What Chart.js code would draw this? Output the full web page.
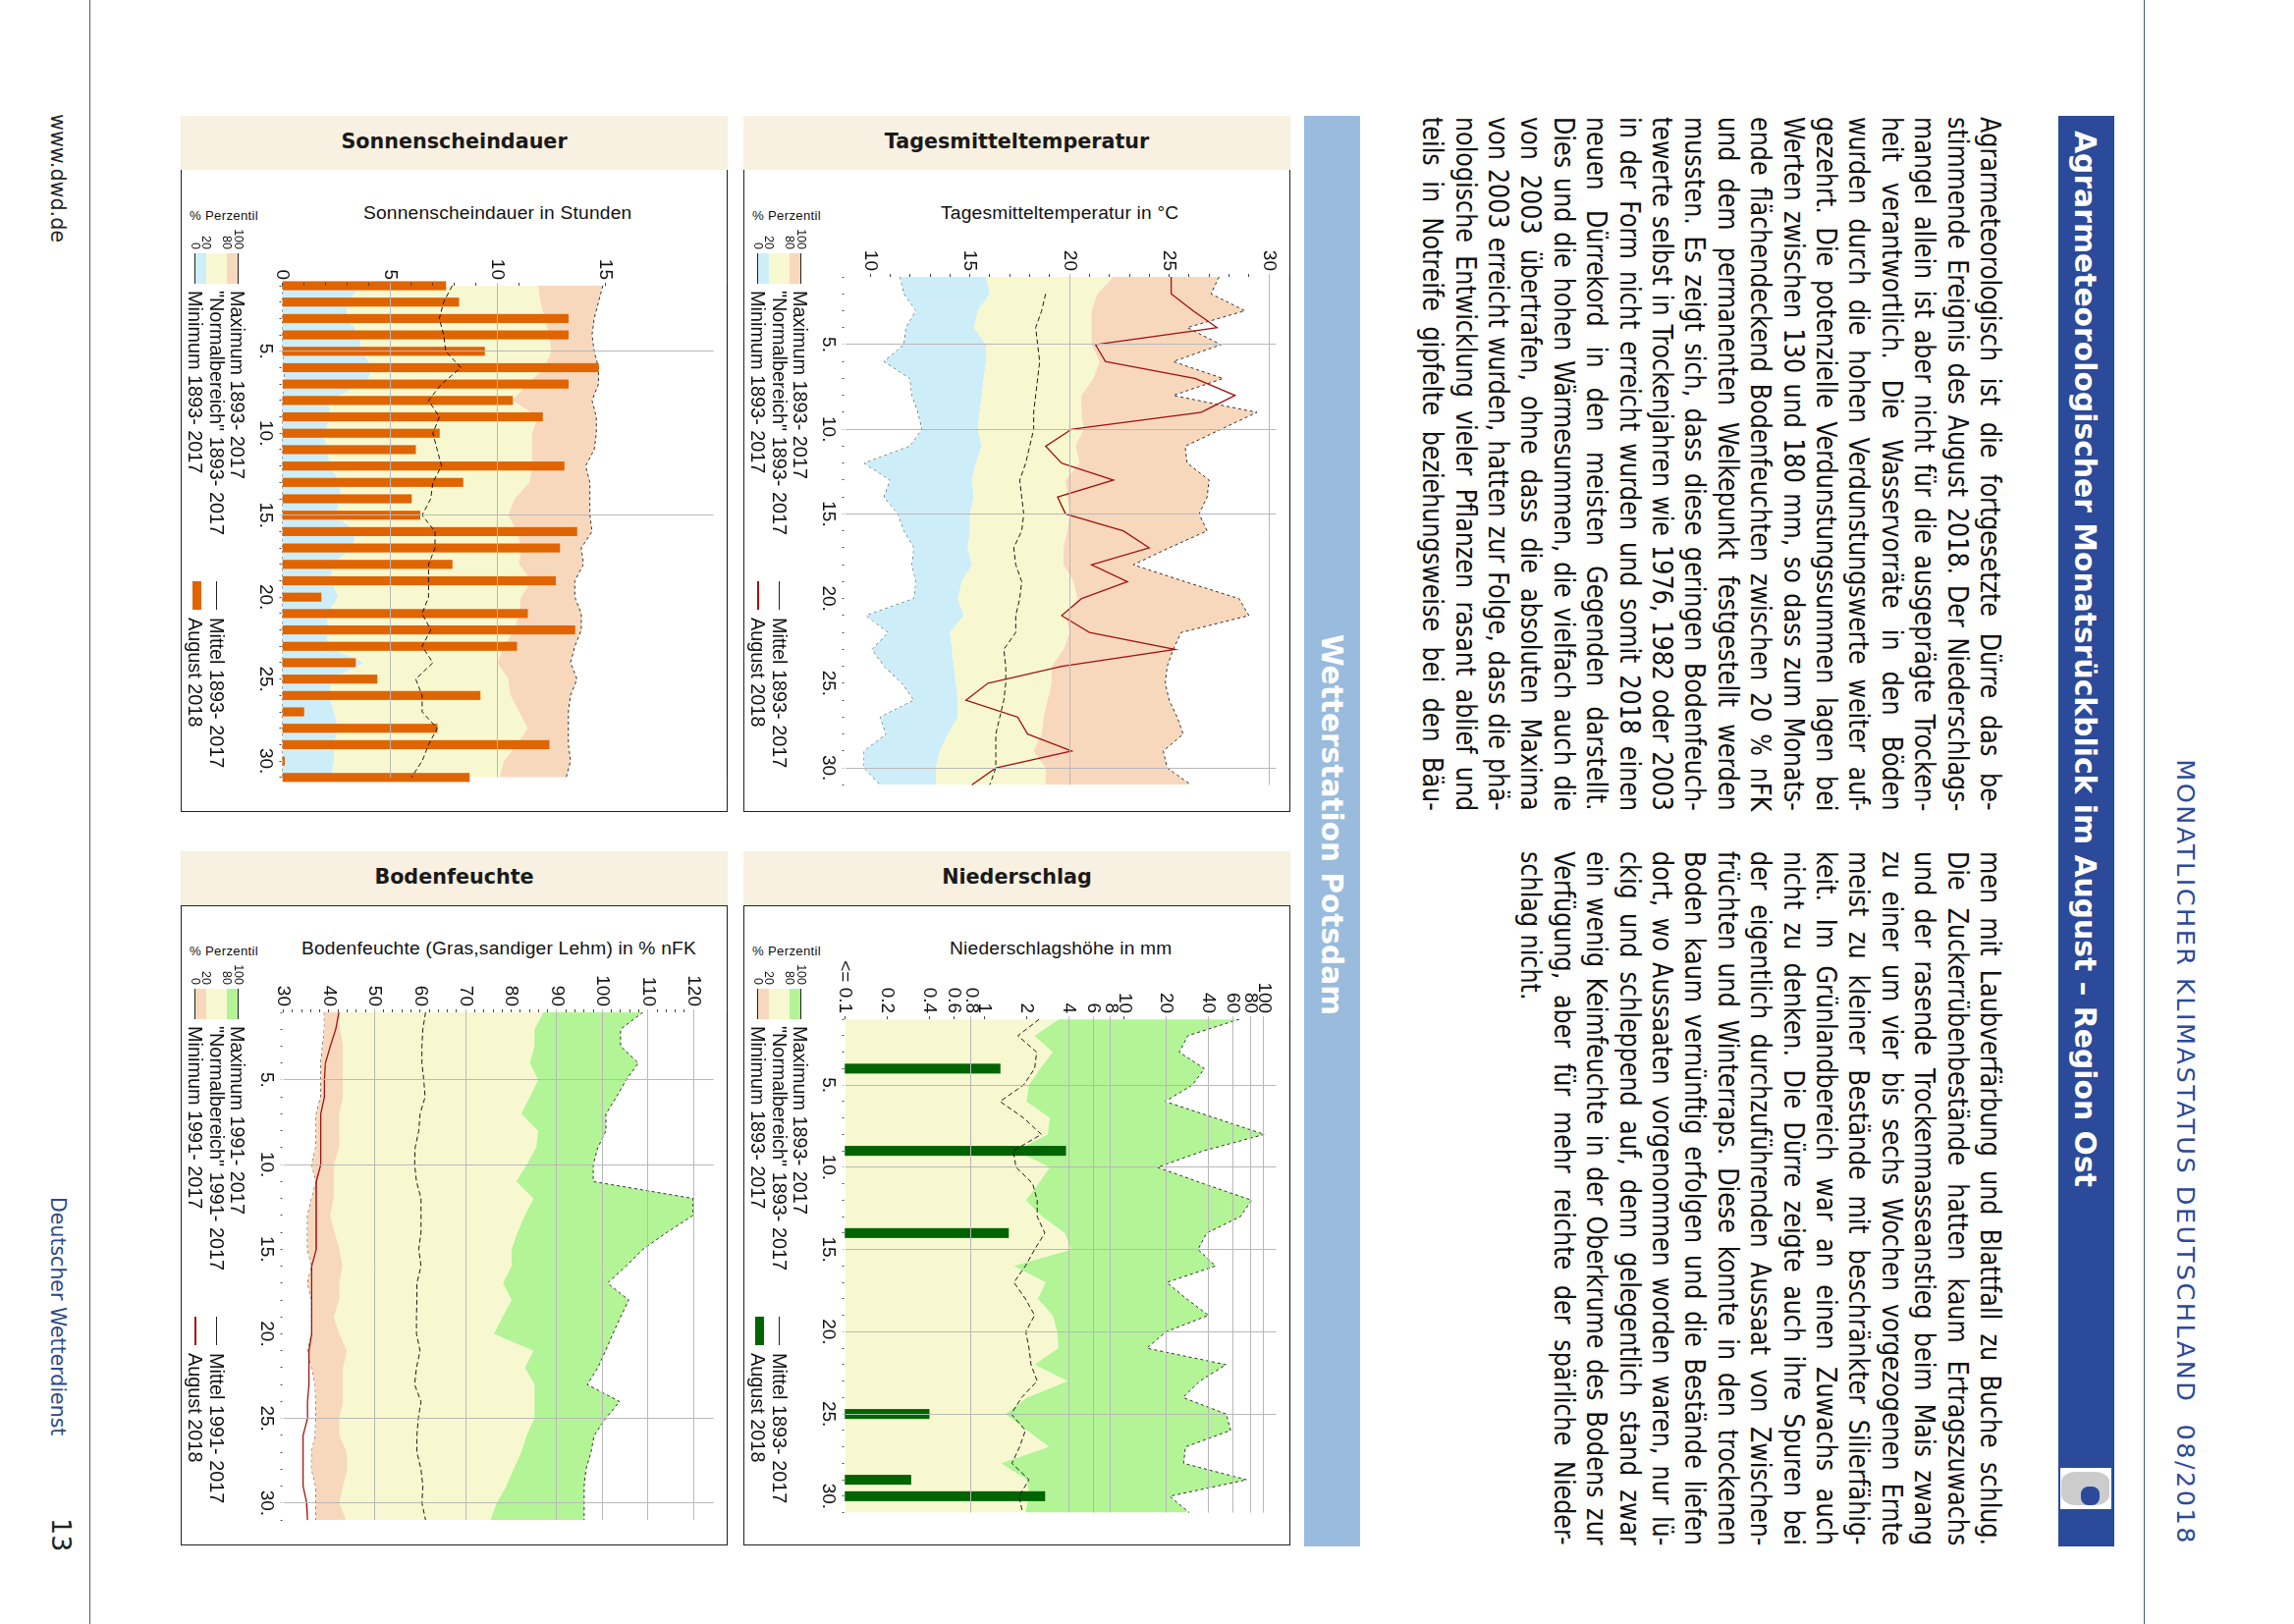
<!DOCTYPE html>
<html lang="de">
<head>
<meta charset="UTF-8">
<title>Monatlicher Klimastatus Deutschland 08/2018</title>
<script src="https://cdn.jsdelivr.net/npm/chart.js"></script>
<style>
  html, body { margin: 0; padding: 0; background: #fff; }
  #page { position: relative; width: 2336px; height: 1654px; overflow: hidden; background: #fff; font-family: "Liberation Sans", sans-serif; color: #111; }
  #page div { position: absolute; }
  .rot { transform-origin: 0 0; transform: rotate(90deg); white-space: nowrap; }
  .band { background: #f8f0e0; font: bold 20.7px "DejaVu Sans", sans-serif; color: #1a1a1a; text-align: center; line-height: 52px; }
  .frame { border: 1px solid #222; box-sizing: border-box; }
  .plotTitle, .perc { white-space: nowrap; transform: translateY(-50%); }
  .plotTitle { font-size: 19.2px; letter-spacing: 0.2px; }
  .perc { font-size: 13.2px; letter-spacing: 0.3px; }
  .line { height: 33px; white-space: nowrap; font: 26.5px/33px "DejaVu Sans Condensed", "DejaVu Sans", sans-serif; color: #111; transform: rotate(90deg) scaleY(1.05); }
  .lg { font-size: 19.85px; line-height: 22px; white-space: nowrap; transform: translateY(-50%); }
  .lgt { font-size: 12.5px; line-height: 14px; white-space: nowrap; text-align: right; transform: translateY(-50%); width: 30px; }
</style>
</head>
<body>
<div id="page">
  <div style="left:91px;top:0;width:1px;height:1654px;background:#4a5a78"></div>
  <div style="left:2183px;top:0;width:1px;height:1654px;background:#4a5a78"></div>

  <div class="rot" style="left:2241px;top:772px;width:802px;font:25.5px 'DejaVu Sans',sans-serif;color:#2c4a9a;letter-spacing:2.5px;text-align:right">MONATLICHER KLIMASTATUS DEUTSCHLAND&nbsp; 08/2018</div>
  <div class="rot" style="left:71px;top:116px;font:20.7px 'DejaVu Sans',sans-serif;color:#222">www.dwd.de</div>
  <div class="rot" style="left:71px;top:1219px;font:20.5px 'DejaVu Sans',sans-serif;color:#2c4a8a">Deutscher Wetterdienst</div>
  <div class="rot" style="left:78px;top:1546px;font:27px 'DejaVu Sans',sans-serif;color:#222">13</div>

  <div style="left:2096px;top:118px;width:57px;height:1457px;background:#2c4a9a"></div>
  <div class="rot" style="left:2141px;top:133px;font:bold 29.8px 'DejaVu Sans',sans-serif;color:#fff">Agrarmeteorologischer Monatsrückblick im August – Region Ost</div>
  <div style="left:2098px;top:1495px;width:52px;height:42px;background:#fff"></div>
  <div style="left:2099px;top:1499px;width:49px;height:34px;background:#ccc;border-radius:30%"></div>
  <div style="left:2119px;top:1514px;width:19px;height:19px;background:#2c4a9a;border-radius:40%"></div>

  <div style="left:1328px;top:118px;width:57px;height:1457px;background:#99bbdd"></div>
  <div class="rot" style="left:1373px;top:646px;font:bold 29.6px 'DejaVu Sans',sans-serif;color:#fff">Wetterstation Potsdam</div>
</div>

<script>
// --- Tagesmitteltemperatur
const days = ['1','2','3','4','5','6','7','8','9','10','11','12','13','14','15','16','17','18','19','20','21','22','23','24','25','26','27','28','29','30','31'];
const tagesMax = [27.5,27.1,28.8,25.9,27.6,25.2,27.7,25.2,29.4,27.6,25.8,25.9,27.0,26.9,26.5,26.9,25.0,23.2,25.8,28.5,29.0,25.6,25.2,24.9,24.8,25.0,25.4,25.7,24.7,24.9,26.1];
const tagesP80 = [22.2,21.4,21.1,21.1,21.1,21.5,21.2,20.6,20.6,20.7,20.3,20.5,19.8,19.9,20.0,19.9,19.7,19.7,20.2,20.4,19.8,20.0,19.7,19.1,19.1,18.9,18.7,18.6,18.2,18.8,18.8];
const tagesP20 = [15.8,16.0,15.4,15.2,15.8,15.8,15.7,15.6,15.5,15.4,15.6,15.3,15.1,15.2,15.0,15.0,14.9,15.1,14.6,14.4,14.7,14.0,14.1,14.2,14.3,14.4,14.4,13.9,13.5,13.3,13.3];
const tagesMin = [11.5,11.7,12.3,11.8,11.7,10.7,12.0,12.1,12.4,12.6,12.0,9.7,11.0,10.7,11.4,11.7,12.2,12.1,12.3,12.2,9.8,10.9,10.1,10.7,11.6,12.2,10.5,10.8,9.7,9.7,10.5];
const tagesMittel = [null,18.8,18.6,18.3,18.4,18.5,18.4,18.3,18.2,18.2,18.0,17.8,17.5,17.6,17.7,17.6,17.2,17.3,17.6,17.5,17.3,17.3,16.7,16.8,16.8,16.7,16.5,16.3,16.3,16.3,16.0];
const tagesAugust = [25.1,25.1,26.2,27.4,21.3,21.8,26.3,28.3,26.6,20.1,18.8,19.6,22.2,19.4,19.8,22.7,24.0,21.1,22.9,20.6,19.6,21.0,25.3,19.6,15.9,14.8,17.4,17.9,20.1,16.3,15.1];
const tagesTicks = [10,11,12,13,14,15,16,17,18,19,20,21,22,23,24,25,26,27,28,29,30];
const tagesLabels = [10,15,20,25,30];
const tagesGridV = [20,30];
const tagesGridD = ['5','10','15','30'];

// --- Sonnenscheindauer
const sonneMax = [14.9,14.7,14.5,14.4,14.5,14.7,14.7,14.4,14.6,14.6,14.5,14.1,14.3,14.3,14.3,14.4,13.9,14.0,13.6,13.6,13.9,13.9,13.6,13.4,13.7,13.4,13.3,13.3,13.3,13.4,13.2];
const sonneP80 = [11.9,12.0,12.2,12.4,12.5,12.2,11.4,10.7,11.9,11.6,11.6,11.6,11.5,10.8,10.5,10.9,11.1,11.0,11.6,11.1,11.0,10.8,10.3,10.0,10.5,10.6,11.0,11.4,10.9,10.3,10.1];
const sonneP20 = [3.7,3.0,3.0,3.6,3.7,4.2,3.9,2.1,2.3,1.9,2.1,2.2,2.7,2.7,2.5,3.4,3.3,2.3,2.3,2.6,2.1,2.1,2.1,3.8,2.3,2.2,2.4,2.6,2.4,2.4,2.3];
const sonneMin = [0,0,0,0,0,0.1,0.1,0,0,0,0,0,0,0,0,0,0,0,0,0,0,0,0,0,0,0,0,0,0,0,0];
const sonneMittel = [7.9,7.5,7.3,7.5,7.6,8.3,7.4,6.8,7.3,7.0,7.2,7.4,7.0,6.9,6.5,7.1,7.1,6.8,6.8,6.8,6.5,6.9,6.5,7.0,6.2,6.5,6.5,7.2,6.8,6.5,6.0];
const sonneAugust = [7.6,8.2,13.3,13.3,9.4,14.7,13.3,10.7,12.1,7.3,6.2,13.1,8.4,6.0,6.4,13.7,12.9,7.9,12.7,1.8,11.4,13.6,10.9,3.4,4.4,9.2,1.0,7.2,12.4,0.1,8.7];
const sonneTicks = [0,1,2,3,4,5,6,7,8,9,10,11,15];
const sonneLabels = [0,5,10,15];
const sonneGridV = [5,10];
const sonneGridD = ['5','15'];

// --- Niederschlag
const regenMax = [66.8,28.6,24.8,37.6,30.8,19.7,44.7,101,37.1,17.3,37.1,82,68,39,33.8,45.2,20.2,28,40.2,20,14.5,53.8,34.8,26.4,53.8,58,27.5,26.7,75.6,21.2,29.3];
const regenP80 = [3.42,2.28,3.07,2.5,2.08,1.99,2.93,2.84,1.68,2.93,2.43,1.97,2.59,3.75,4.19,1.62,2.75,2.4,3.07,3.31,3.37,2.28,3.94,2.02,1.41,2.02,2.89,1.31,2.02,2.08,1.96];
const regenMittel = [2.46,1.73,2.36,2.28,1.9,1.29,1.9,2.55,1.6,1.68,2.21,2.38,2.38,2.7,2.28,1.96,1.62,1.96,2.28,1.97,2.08,2.15,2.38,1.84,1.55,1.96,1.78,1.57,2.08,1.76,1.87];
const regenAugust = [null,null,null,1.29,null,null,null,null,3.8,null,null,null,null,1.48,null,null,null,null,null,null,null,null,null,null,0.4,null,null,null,0.296,2.7,null];
const regenTicks = [0.1,0.2,0.4,0.6,0.8,1,2,4,6,8,10,20,40,60,80,100];
const regenLabels = [0.1,0.2,0.4,0.6,0.8,1,2,4,6,8,10,20,40,60,80,100];
const regenGridV = [0.8,4,6,8,20,40,60,80,100];
const regenGridD = ['5','10','15','20','25'];

// --- Bodenfeuchte
const bodenMax = [108.9,104.0,104.0,107.9,105.2,103.1,100.8,100.8,99,98,98,119.9,119.9,114.2,108.9,105.2,101.1,105.8,104,102.3,100.7,99,96.7,103.8,100.7,98.2,97.5,96.4,96,96,96];
const bodenP80 = [87.1,85.1,85.1,84.1,85.9,84.1,82.2,85.9,85.5,83.4,81.1,84.9,83,81.4,80.1,80.1,78.2,80.1,78.1,76.2,84.9,83,85.1,85.1,85.1,83.4,82.2,80.5,78.9,76.8,75.4];
const bodenP20 = [42.3,42.5,43.1,43.1,43.1,43.1,42.3,42.3,42.3,41.1,41.1,41.1,40.3,41.3,42.3,43,42.3,42.3,41.1,42.3,44,43.1,43.1,43.1,42.3,42.3,44,44.1,43.1,42.3,43.8];
const bodenMin = [39,39,38.6,38.2,38.2,38.2,37.2,37.2,37.1,36.2,37.2,36.2,35.3,35.3,35.3,36.2,35.3,36.2,36.2,36.2,35.3,36.2,37,37.1,37.1,37,36.2,36.2,37.1,37.1,37.1];
const bodenMittel = [61.2,60.6,60.4,60.4,60.8,61.1,60,59.7,58.9,58.8,59.2,60.2,60.2,60.2,59.7,60.2,59.3,59.3,59.2,59.2,60,59.2,58.8,60.2,59.6,59.3,59.3,60.2,60.6,60.4,61.2];
const bodenAugust = [42.2,41.5,40.3,39.2,39,39,38.2,38.2,38.2,38.2,37.2,37.2,37.2,37.2,37.2,36.2,36.2,36.2,36.2,36.2,35.6,35.6,35.6,35.3,35.3,34.3,34.3,34.3,34.3,35.1,35.3];
const bodenTicks = [30,32,34,36,38,40,42,44,46,48,50,52,54,56,58,60,62,64,66,68,70,72,74,76,78,80,82,84,86,88,90,92,94,96,98,100,102,104,106,108,110,112,114,116,118,120];
const bodenLabels = [30,40,50,60,70,80,90,100,110,120];
const bodenGridV = [50,70,90,100,110,120];
const bodenGridD = ['5','10','25','30'];

const textCol1 = [
  'Agrarmeteorologisch ist die fortgesetzte Dürre das be-',
  'stimmende Ereignis des August 2018. Der Niederschlags-',
  'mangel allein ist aber nicht für die ausgeprägte Trocken-',
  'heit verantwortlich. Die Wasservorräte in den Böden',
  'wurden durch die hohen Verdunstungswerte weiter auf-',
  'gezehrt. Die potenzielle Verdunstungssummen lagen bei',
  'Werten zwischen 130 und 180 mm, so dass zum Monats-',
  'ende flächendeckend Bodenfeuchten zwischen 20 % nFK',
  'und dem permanenten Welkepunkt festgestellt werden',
  'mussten. Es zeigt sich, dass diese geringen Bodenfeuch-',
  'tewerte selbst in Trockenjahren wie 1976, 1982 oder 2003',
  'in der Form nicht erreicht wurden und somit 2018 einen',
  'neuen Dürrekord in den meisten Gegenden darstellt.',
  'Dies und die hohen Wärmesummen, die vielfach auch die',
  'von 2003 übertrafen, ohne dass die absoluten Maxima',
  'von 2003 erreicht wurden, hatten zur Folge, dass die phä-',
  'nologische Entwicklung vieler Pflanzen rasant ablief und',
  'teils in Notreife gipfelte beziehungsweise bei den Bäu-'
];
const textCol2 = [
  'men mit Laubverfärbung und Blattfall zu Buche schlug.',
  'Die Zuckerrübenbestände hatten kaum Ertragszuwachs',
  'und der rasende Trockenmasseanstieg beim Mais zwang',
  'zu einer um vier bis sechs Wochen vorgezogenen Ernte',
  'meist zu kleiner Bestände mit beschränkter Silierfähig-',
  'keit. Im Grünlandbereich war an einen Zuwachs auch',
  'nicht zu denken. Die Dürre zeigte auch ihre Spuren bei',
  'der eigentlich durchzuführenden Aussaat von Zwischen-',
  'früchten und Winterraps. Diese konnte in den trockenen',
  'Boden kaum vernünftig erfolgen und die Bestände liefen',
  'dort, wo Aussaaten vorgenommen worden waren, nur lü-',
  'ckig und schleppend auf, denn gelegentlich stand zwar',
  'ein wenig Keimfeuchte in der Oberkrume des Bodens zur',
  'Verfügung, aber für mehr reichte der spärliche Nieder-',
  'schlag nicht.'
];

const page = document.getElementById('page');
const BLUE = '#cdeef8', YELLOW = '#f8f8d0', SALMON = '#f8d8bc', GREEN = '#b2f496';
const GRID = '#b8b8b8';

function addDiv(parent, cls, css, text) {
  const d = document.createElement('div');
  if (cls) d.className = cls;
  d.style.cssText = css;
  if (text !== undefined) d.textContent = text;
  parent.appendChild(d);
  return d;
}

function addColumn(lines, right, top) {
  lines.forEach(function (t, i) {
    const d = addDiv(page, 'line', 'transform-origin:0 0;left:' + (right - i * 33.4) + 'px;top:' + top + 'px', t);
    // word spacing is set per line so each one fills the column, tight lines included
    if (t.length > 30) {
      d.style.wordSpacing = (707 - d.offsetWidth) / (t.split(' ').length - 1) + 'px';
    }
  });
}
addColumn(textCol1, 2044, 119);
addColumn(textCol2, 2044, 867);

function addLegend(box, H, o) {
  // box is turned by 90deg, so its x runs down the screen and its y runs leftwards
  const cy = function (v) { return H - v; };
  addDiv(box, '', 'left:85px;top:' + cy(59.5) + 'px;width:31px;height:12px;background:' + o.high);
  addDiv(box, '', 'left:85px;top:' + cy(47.5) + 'px;width:31px;height:21px;background:' + YELLOW);
  addDiv(box, '', 'left:85px;top:' + cy(26.5) + 'px;width:31px;height:11px;background:' + o.low);
  addDiv(box, '', 'left:85px;top:' + cy(59.5) + 'px;width:31px;height:1px;background:#222');
  addDiv(box, '', 'left:85px;top:' + cy(15.5) + 'px;width:31px;height:1px;background:#222');
  [['100', 59.5], ['80', 47], ['20', 26], ['0', 15.5]].forEach(function (p) {
    addDiv(box, 'lgt', 'left:51px;top:' + cy(p[1]) + 'px', p[0]);
  });
  addDiv(box, 'lg', 'left:123px;top:' + cy(58) + 'px', 'Maximum ' + o.years);
  addDiv(box, 'lg', 'left:123px;top:' + cy(37) + 'px', '"Normalbereich" ' + o.years);
  addDiv(box, 'lg', 'left:123px;top:' + cy(15.5) + 'px', 'Minimum ' + o.years);
  addDiv(box, '', 'left:419px;top:' + cy(37) + 'px;width:29px;height:1px;background:#222');
  addDiv(box, 'lg', 'left:456px;top:' + cy(37) + 'px', 'Mittel ' + o.years);
  if (o.bar) addDiv(box, '', 'left:419px;top:' + cy(21) + 'px;width:29px;height:9px;background:' + o.aug);
  else addDiv(box, '', 'left:419px;top:' + cy(16) + 'px;width:29px;height:1.5px;background:' + o.aug);
  addDiv(box, 'lg', 'left:456px;top:' + cy(15.5) + 'px', 'August 2018');
}

function lineSet(data, fill, color) {
  return { type: 'line', data: data, fill: fill, backgroundColor: color, borderWidth: 0, pointRadius: 0, tension: 0, order: 10 };
}
function dashLine(set) {
  set.borderColor = '#000'; set.borderWidth = 0.8; set.borderDash = [3, 3];
  return set;
}
function meanLine(data) {
  return { type: 'line', data: data, borderColor: '#000', borderWidth: 0.9, borderDash: [5, 3], pointRadius: 0, tension: 0, fill: false, order: 1 };
}
function augustLine(data) {
  return { type: 'line', data: data, borderColor: '#a01010', borderWidth: 1.3, pointRadius: 0, tension: 0, fill: false, order: 0 };
}

function makePanel(o) {
  const W = Math.round(o.B - o.T), H = Math.round(o.R - o.L);
  addDiv(page, 'band', 'left:' + o.L + 'px;top:' + (o.T - 55) + 'px;width:' + (o.R - o.L) + 'px;height:55px', o.name);
  addDiv(page, 'frame', 'left:' + o.L + 'px;top:' + o.T + 'px;width:' + (o.R - o.L) + 'px;height:' + (o.B - o.T) + 'px;' + (o.topRow ? 'border-top:none' : ''));
  addDiv(page, 'plotTitle', 'left:' + o.titleX + 'px;top:' + (o.T + 44) + 'px', o.title);
  addDiv(page, 'perc', 'left:' + (o.L + 9) + 'px;top:' + (o.T + 46) + 'px', '% Perzentil');

  const box = addDiv(page, 'rot', 'left:' + o.R + 'px;top:' + o.T + 'px;width:' + W + 'px;height:' + H + 'px');
  const canvas = document.createElement('canvas');
  canvas.width = W; canvas.height = H;
  box.appendChild(canvas);
  addLegend(box, H, o.legend);

  const isGridDay = function (c) { return o.gridD.indexOf(days[c.index]) >= 0; };
  const isGridVal = function (c) { return c.tick && o.gridV.indexOf(c.tick.value) >= 0; };

  new Chart(canvas, {
    type: 'line',
    data: { labels: days, datasets: o.sets },
    options: {
      responsive: false,
      animation: false,
      events: [],
      layout: { autoPadding: false, padding: { top: o.R - o.plotR, right: o.B - o.d31 } },
      plugins: { legend: { display: false }, title: { display: false }, tooltip: { enabled: false } },
      scales: {
        x: {
          type: 'category',
          offset: false,
          afterFit: function (s) { s.height = o.plotL - o.L; },
          border: { display: true, color: '#111', width: 1.5 },
          grid: {
            offset: false, z: 1, lineWidth: 1, tickLength: 3,
            tickColor: function (c) { return isGridDay(c) ? GRID : '#444'; },
            color: function (c) { return isGridDay(c) ? GRID : 'rgba(0,0,0,0)'; }
          },
          ticks: {
            autoSkip: false, maxRotation: 0, minRotation: 0, padding: 3,
            color: '#111', font: { family: 'Liberation Sans', size: 19 },
            callback: function (v, i) { return (i + 1) % 5 === 0 ? (i + 1) + '.' : ''; }
          }
        },
        y: {
          type: o.log ? 'logarithmic' : 'linear',
          min: o.min, max: o.max,
          afterFit: function (s) { s.width = o.d1 - o.T; },
          afterBuildTicks: function (s) { s.ticks = o.ticks.map(function (v) { return { value: v }; }); },
          border: { display: false },
          grid: {
            z: 1, lineWidth: 1, tickLength: 3,
            tickColor: function (c) { return isGridVal(c) ? GRID : '#444'; },
            color: function (c) { return isGridVal(c) ? GRID : 'rgba(0,0,0,0)'; }
          },
          ticks: {
            autoSkip: false, padding: 3,
            color: '#111', font: { family: 'Liberation Sans', size: 19 },
            callback: function (v) {
              if (o.labels.indexOf(v) < 0) return '';
              return o.log && v === 0.1 ? '<= 0.1' : String(v);
            }
          }
        }
      }
    }
  });
}

makePanel({
  name: 'Tagesmitteltemperatur', title: 'Tagesmitteltemperatur in °C', titleX: 958, topRow: true,
  L: 757, R: 1314, T: 173, B: 827, d1: 282, d31: 799.4, plotL: 860.6, plotR: 1300.6,
  min: 8.74, max: 30.37, ticks: tagesTicks, labels: tagesLabels, gridV: tagesGridV, gridD: tagesGridD,
  legend: { low: BLUE, high: SALMON, years: '1893- 2017', aug: '#a01010' },
  sets: [
    augustLine(tagesAugust),
    meanLine(tagesMittel),
    dashLine(lineSet(tagesMax, '+1', SALMON)),
    lineSet(tagesP80, '+1', YELLOW),
    lineSet(tagesP20, '+1', BLUE),
    dashLine(lineSet(tagesMin, false, BLUE))
  ]
});

makePanel({
  name: 'Sonnenscheindauer', title: 'Sonnenscheindauer in Stunden', titleX: 370, topRow: true,
  L: 184, R: 741, T: 173, B: 827, d1: 291, d31: 791.8, plotL: 287.5, plotR: 728,
  min: 0, max: 20.05, ticks: sonneTicks, labels: sonneLabels, gridV: sonneGridV, gridD: sonneGridD,
  legend: { low: BLUE, high: SALMON, years: '1893- 2017', aug: '#e06400', bar: true },
  sets: [
    meanLine(sonneMittel),
    { type: 'bar', data: sonneAugust, backgroundColor: '#e06400', barThickness: 8.5, clip: false, order: 5 },
    dashLine(lineSet(sonneMax, '+1', SALMON)),
    lineSet(sonneP80, '+1', YELLOW),
    lineSet(sonneP20, '+1', BLUE),
    dashLine(lineSet(sonneMin, false, BLUE))
  ]
});

makePanel({
  name: 'Niederschlag', title: 'Niederschlagshöhe in mm', titleX: 967,
  L: 757, R: 1314, T: 921.7, B: 1574.4, d1: 1037.8, d31: 1540, plotL: 860.6, plotR: 1300,
  log: true, min: 0.1, max: 123, ticks: regenTicks, labels: regenLabels, gridV: regenGridV, gridD: regenGridD,
  legend: { low: SALMON, high: GREEN, years: '1893- 2017', aug: '#006400', bar: true },
  sets: [
    meanLine(regenMittel),
    { type: 'bar', data: regenAugust, backgroundColor: '#006400', barThickness: 9.4, clip: false, order: 5 },
    dashLine(lineSet(regenMax, '+1', GREEN)),
    lineSet(regenP80, 'start', YELLOW)
  ]
});

makePanel({
  name: 'Bodenfeuchte', title: 'Bodenfeuchte (Gras,sandiger Lehm) in % nFK', titleX: 307,
  L: 184, R: 741, T: 921.7, B: 1574.4, d1: 1030.7, d31: 1547.5, plotL: 288.6, plotR: 728,
  min: 30, max: 124.4, ticks: bodenTicks, labels: bodenLabels, gridV: bodenGridV, gridD: bodenGridD,
  legend: { low: SALMON, high: GREEN, years: '1991- 2017', aug: '#a01010' },
  sets: [
    augustLine(bodenAugust),
    meanLine(bodenMittel),
    dashLine(lineSet(bodenMax, '+1', GREEN)),
    lineSet(bodenP80, '+1', YELLOW),
    lineSet(bodenP20, '+1', SALMON),
    dashLine(lineSet(bodenMin, false, SALMON))
  ]
});
</script>
</body>
</html>
